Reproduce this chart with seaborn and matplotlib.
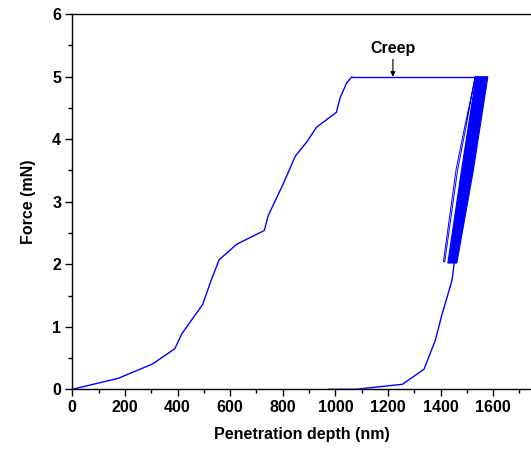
import matplotlib
matplotlib.use("Agg")
import matplotlib.pyplot as plt
import seaborn as sns
import pandas as pd
from matplotlib.ticker import MultipleLocator

sns.set_theme(style="ticks")
plt.rcParams['font.family'] = ['Liberation Sans', 'DejaVu Sans']
plt.rcParams['text.color'] = 'black'
plt.rcParams['axes.labelcolor'] = 'black'

# Loading segment
load_x = [0, 175, 305, 390, 416, 496, 526, 558, 625, 730, 745, 798, 848, 894, 928, 1004, 1018, 1043, 1063]
load_y = [0, 0.176, 0.405, 0.65, 0.885, 1.36, 1.72, 2.07, 2.32, 2.54, 2.78, 3.25, 3.73, 3.97, 4.19, 4.43, 4.66, 4.90, 5.0]
# Creep hold
creep_x = [1063, 1535]
creep_y = [5.0, 5.0]
# First thin unload / reload lines
cyc1_x = [1533, 1492, 1459, 1411, 1416, 1465, 1497, 1531]
cyc1_y = [5.0, 4.2, 3.51, 2.04, 2.04, 3.51, 4.2, 5.0]
# Dense cycling band (outline)
band_x = [1535, 1580, 1525, 1462, 1428, 1480]
band_y = [5.0, 5.0, 3.51, 2.02, 2.02, 3.51]
# Final unloading
unload_x = [1452, 1444, 1422, 1405, 1380, 1337, 1255, 1077, 974]
unload_y = [2.02, 1.75, 1.43, 1.19, 0.78, 0.32, 0.08, 0.0, 0.0]

xticks = [0, 200, 400, 600, 800, 1000, 1200, 1400, 1600]
yticks = [0, 1, 2, 3, 4, 5, 6]

fig = plt.figure(figsize=(5.31, 4.50), dpi=100)
ax = fig.add_axes([72.3 / 531, (450 - 389.3) / 450, 1 - 72.3 / 531, (389.3 - 14.2) / 450])

blue = "#0000FF"
for xs, ys, lw in [(load_x, load_y, 1.0), (creep_x, creep_y, 1.0), (cyc1_x, cyc1_y, 0.7), (unload_x, unload_y, 1.0)]:
    df = pd.DataFrame({"x": xs, "y": ys})
    sns.lineplot(data=df, x="x", y="y", sort=False, estimator=None, color=blue, lw=lw, ax=ax)
ax.fill(band_x, band_y, color=blue, lw=0.8, ec=blue)

ax.set_xlim(0, 1744)
ax.set_ylim(0, 6)
ax.set_xticks(xticks)
ax.set_yticks(yticks)
ax.xaxis.set_minor_locator(MultipleLocator(100))
ax.yaxis.set_minor_locator(MultipleLocator(0.5))
ax.tick_params(which="major", direction="out", length=5, width=1, labelsize=11.5, colors="black", pad=3)
ax.tick_params(which="minor", direction="out", length=3, width=1, colors="black")
for lab in ax.get_xticklabels() + ax.get_yticklabels():
    lab.set_fontweight("bold")

for s in ["left", "top", "bottom"]:
    ax.spines[s].set_color("black")
    ax.spines[s].set_linewidth(1.0)
ax.spines["right"].set_visible(False)

ax.set_xlabel("Penetration depth (nm)", fontsize=11.5, fontweight="bold", labelpad=8, color="black")
ax.set_ylabel("Force (mN)", fontsize=11.5, fontweight="bold", labelpad=12, color="black")

ax.annotate("Creep", xy=(1219, 5.0), xytext=(1219, 5.33), ha="center", va="bottom",
            fontsize=11.5, fontweight="bold", color="black",
            arrowprops=dict(arrowstyle="-|>", color="black", lw=0.8, mutation_scale=7, shrinkA=0, shrinkB=0))

fig.savefig("out.png", dpi=100)
